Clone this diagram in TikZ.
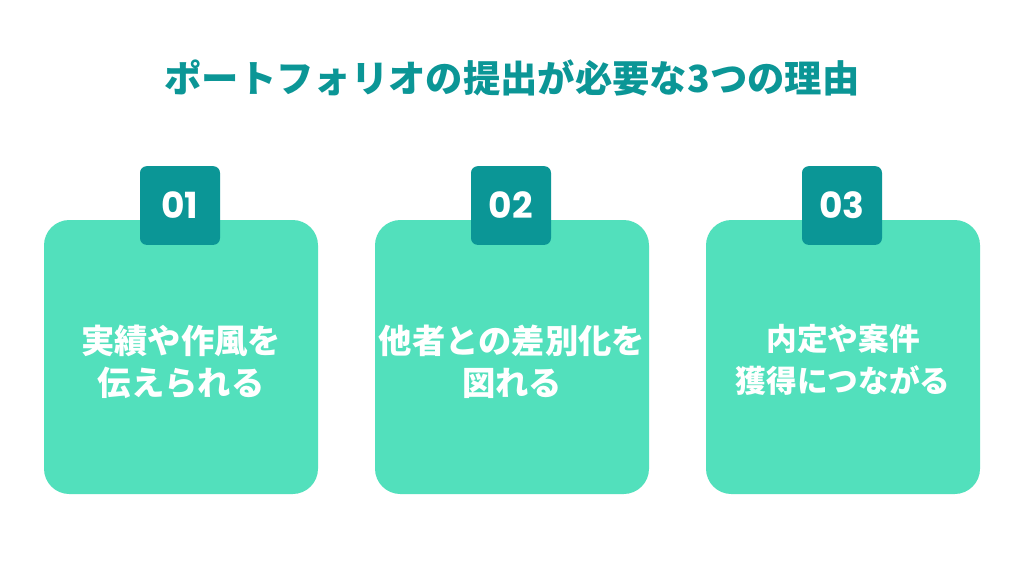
\documentclass[tikz,border=0pt]{standalone}
\usepackage{fontspec}
\usepackage{tikz}
\usetikzlibrary{positioning}
\newfontfamily\cjk{Noto Sans CJK JP}
\newfontfamily\numfont{Poppins}
\definecolor{teal}{HTML}{0B9696}
\definecolor{mint}{HTML}{52E0BC}
\tikzset{
  card/.style={fill=mint,rounded corners=19pt,minimum width=205.5pt,minimum height=205.5pt,inner sep=0pt},
  txt/.style={align=center,text=white,inner sep=0pt,font=\cjk\bfseries\fontsize{25}{31.5}\selectfont},
  badge/.style={fill=teal,rounded corners=5pt,minimum width=60pt,minimum height=59pt,inner sep=0pt,text=white,font=\numfont\bfseries\fontsize{27}{27}\selectfont},
  ttl/.style={text=teal,font=\cjk\bfseries\fontsize{28}{28}\selectfont},
}

\begin{document}
\begin{tikzpicture}[x=0.75pt,y=-0.75pt]
\useasboundingbox[fill=white] (0,0) rectangle (1024,576);
\node[ttl] (title) at (512,78) {ポートフォリオの提出が必要な3つの理由};
% cards
\node[card] (c1) at (181,357) {};
\node[card] (c2) at (512,357) {};
\node[card] (c3) at (843,357) {};
\node[txt] (t1) at ([yshift=-3.75pt]c1.center) {実績や作風を\\伝えられる};
\node[txt] (t2) at ([yshift=-3.75pt]c2.center) {他者との差別化を\\図れる};
\node[txt,font=\cjk\bfseries\fontsize{23}{31.5}\selectfont] (t3) at ([yshift=-2.25pt]c3.center) {内定や案件\\獲得につながる};
% badges
\node[badge] (b1) at (180,205.5) {01};
\node[badge] (b2) at (511,205.5) {02};
\node[badge] (b3) at (842,205.5) {03};
\end{tikzpicture}
\end{document}
